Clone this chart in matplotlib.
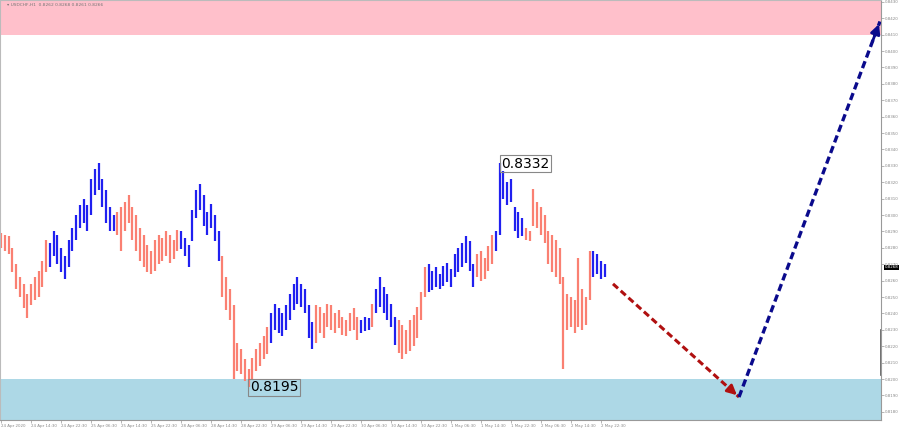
import matplotlib
matplotlib.use("Agg")
import matplotlib.pyplot as plt
import numpy as np
from matplotlib.transforms import blended_transform_factory

# hourly bars, high / low
highs = [0.8289, 0.8288, 0.8287, 0.8280, 0.8270, 0.8262, 0.8258, 0.8252, 0.8258, 0.8262,
         0.8266, 0.8272, 0.8285, 0.8283, 0.8290, 0.8288, 0.8280, 0.8275, 0.8285, 0.8292,
         0.8300, 0.8306, 0.8310, 0.8306, 0.8322, 0.8328, 0.8332, 0.8322, 0.8315, 0.8305,
         0.8300, 0.8302, 0.8305, 0.8308, 0.8312, 0.8305, 0.8300, 0.8292, 0.8288, 0.8282,
         0.8278, 0.8285, 0.8288, 0.8286, 0.8290, 0.8288, 0.8285, 0.8291, 0.8290, 0.8286,
         0.8282, 0.8303, 0.8315, 0.8319, 0.8312, 0.8302, 0.8307, 0.8300, 0.8290, 0.8275,
         0.8262, 0.8255, 0.8245, 0.8222, 0.8218, 0.8212, 0.8206, 0.8213, 0.8218, 0.8222,
         0.8226, 0.8232, 0.8240, 0.8246, 0.8243, 0.8240, 0.8245, 0.8252, 0.8258, 0.8262,
         0.8258, 0.8255, 0.8245, 0.8235, 0.8245, 0.8244, 0.8240, 0.8246, 0.8245, 0.8240,
         0.8242, 0.8238, 0.8236, 0.8240, 0.8243, 0.8238, 0.8236, 0.8238, 0.8237, 0.8246,
         0.8255, 0.8262, 0.8256, 0.8252, 0.8246, 0.8238, 0.8236, 0.8233, 0.8230, 0.8236,
         0.8239, 0.8244, 0.8253, 0.8268, 0.8270, 0.8266, 0.8268, 0.8264, 0.8269, 0.8271,
         0.8267, 0.8276, 0.8280, 0.8283, 0.8287, 0.8284, 0.8270, 0.8276, 0.8278, 0.8274,
         0.8281, 0.8288, 0.8290, 0.8332, 0.8327, 0.8320, 0.8322, 0.8305, 0.8302, 0.8298,
         0.8292, 0.8290, 0.8316, 0.8308, 0.8305, 0.8300, 0.8290, 0.8288, 0.8285, 0.8280,
         0.8262, 0.8252, 0.8250, 0.8248, 0.8274, 0.8255, 0.8250, 0.8278, 0.8278, 0.8276,
         0.8272, 0.8270]
lows = [0.8280, 0.8278, 0.8276, 0.8265, 0.8255, 0.8250, 0.8243, 0.8237, 0.8245, 0.8248,
        0.8250, 0.8256, 0.8265, 0.8268, 0.8275, 0.8270, 0.8265, 0.8261, 0.8268, 0.8278,
        0.8285, 0.8292, 0.8295, 0.8290, 0.8300, 0.8312, 0.8315, 0.8305, 0.8295, 0.8290,
        0.8290, 0.8288, 0.8278, 0.8290, 0.8295, 0.8285, 0.8278, 0.8272, 0.8268, 0.8265,
        0.8264, 0.8266, 0.8270, 0.8272, 0.8275, 0.8271, 0.8273, 0.8278, 0.8279, 0.8275,
        0.8268, 0.8284, 0.8298, 0.8303, 0.8293, 0.8288, 0.8292, 0.8284, 0.8272, 0.8250,
        0.8242, 0.8236, 0.8200, 0.8205, 0.8203, 0.8199, 0.8195, 0.8200, 0.8205, 0.8208,
        0.8212, 0.8215, 0.8222, 0.8230, 0.8228, 0.8226, 0.8230, 0.8236, 0.8242, 0.8246,
        0.8244, 0.8240, 0.8225, 0.8218, 0.8222, 0.8228, 0.8225, 0.8232, 0.8230, 0.8228,
        0.8231, 0.8227, 0.8226, 0.8229, 0.8230, 0.8224, 0.8228, 0.8229, 0.8230, 0.8232,
        0.8240, 0.8244, 0.8240, 0.8236, 0.8232, 0.8221, 0.8216, 0.8212, 0.8215, 0.8217,
        0.8220, 0.8225, 0.8236, 0.8250, 0.8253, 0.8254, 0.8256, 0.8255, 0.8257, 0.8259,
        0.8256, 0.8262, 0.8265, 0.8268, 0.8271, 0.8266, 0.8256, 0.8262, 0.8260, 0.8261,
        0.8266, 0.8270, 0.8278, 0.8288, 0.8310, 0.8306, 0.8308, 0.8290, 0.8286, 0.8287,
        0.8285, 0.8284, 0.8293, 0.8292, 0.8288, 0.8283, 0.8270, 0.8265, 0.8262, 0.8258,
        0.8206, 0.8230, 0.8232, 0.8228, 0.8232, 0.8230, 0.8233, 0.8248, 0.8262, 0.8264,
        0.8261, 0.8262]

# last bar index of each wave, first wave is down
wave_ends = [12, 30, 47, 58, 71, 83, 95, 98, 99, 105, 113, 126, 131, 139, 157, 161]

date_labels = ["24 Apr 2020", "24 Apr 14:30", "24 Apr 22:30", "25 Apr 06:30", "25 Apr 14:30",
               "25 Apr 22:30", "28 Apr 06:30", "28 Apr 14:30", "28 Apr 22:30", "29 Apr 06:30",
               "29 Apr 14:30", "29 Apr 22:30", "30 Apr 06:30", "30 Apr 14:30", "30 Apr 22:30",
               "1 May 06:30", "1 May 14:30", "1 May 22:30", "2 May 06:30", "2 May 14:30",
               "2 May 22:30"]
bars_per_label = 8

# forecast path (bar index, price)
forecast_x = [163.2, 196.8, 234.4]
forecast_y = [0.8258, 0.8189, 0.8418]

resistance_zone = (0.8410, 0.8440)
support_zone = (0.8160, 0.8200)
last_price = 0.8268
swing_high = (133, 0.8332)
swing_low = (66, 0.8195)

fig = plt.figure(figsize=(9, 4.3), dpi=100)
ax = fig.add_axes([0, 10 / 430, 881 / 900, 420 / 430])

ax.set_xlim(-0.27, 234.67)
ax.set_ylim(0.81750, 0.84311)

ax.axhspan(*resistance_zone, color="#ffc0cb", lw=0, zorder=0)
ax.axhspan(*support_zone, color="#add8e6", lw=0, zorder=0)

colors = []
start = 0
for k, end in enumerate(wave_ends):
    c = "#fa8072" if k % 2 == 0 else "#2020f0"
    colors += [c] * (end - start + 1)
    start = end + 1

x = np.arange(len(highs))
ax.vlines(x, lows, highs, colors=colors, lw=1.6, zorder=2)

# forecast arrows
ax.plot(forecast_x[:2], forecast_y[:2], ls=(0, (2.2, 1.2)), color="#b01010", lw=2.2, zorder=3)
ax.plot(forecast_x[1:], forecast_y[1:], ls=(0, (2.2, 1.2)), color="#0a0a8c", lw=2.4, zorder=3)
for (x0, y0, x1, y1, c) in [(forecast_x[0], forecast_y[0], forecast_x[1], forecast_y[1], "#b01010"),
                            (forecast_x[1], forecast_y[1], forecast_x[2], forecast_y[2], "#0a0a8c")]:
    ax.annotate("", xy=(x1, y1), xytext=(x1 - (x1 - x0) * 0.06, y1 - (y1 - y0) * 0.06),
                arrowprops=dict(arrowstyle="-|>", color=c, lw=2, mutation_scale=14), zorder=4)

box = dict(boxstyle="square,pad=0.1", fc="none", ec="#888888", lw=0.8)
ax.text(swing_high[0] + 0.5, swing_high[1] - 0.00008, f"{swing_high[1]:.4f}", fontsize=10,
        ha="left", va="center", bbox=box, zorder=5)
ax.text(swing_low[0] + 0.3, swing_low[1], f"{swing_low[1]:.4f}", fontsize=10,
        ha="left", va="center", bbox=box, zorder=5)

# axes styling
for side in ["top", "left"]:
    ax.spines[side].set_color("#bbbbbb")
    ax.spines[side].set_linewidth(0.8)
for side in ["bottom", "right"]:
    ax.spines[side].set_color("#999999")
    ax.spines[side].set_linewidth(0.8)

ax.yaxis.tick_right()
ax.set_yticks(np.round(np.arange(0.8180, 0.8431, 0.001), 4))
ax.yaxis.set_major_formatter(plt.FuncFormatter(lambda v, p: f"{v:.4f}"))
ax.tick_params(axis="y", direction="out", length=2, width=0.5, colors="#999999",
               labelsize=2.9, labelcolor="#888888", pad=1)

xt = np.arange(len(date_labels)) * bars_per_label
ax.set_xticks(xt)
ax.set_xticklabels(date_labels, ha="left")
ax.tick_params(axis="x", direction="out", length=2, width=0.5, colors="#999999",
               labelsize=2.9, labelcolor="#888888", pad=0.8)

trans = blended_transform_factory(ax.transAxes, ax.transData)
ax.text(1.004, last_price, f"{last_price:.4f}", transform=trans, fontsize=2.9, color="white",
        ha="left", va="center", bbox=dict(boxstyle="square,pad=0.2", fc="black", ec="none"),
        clip_on=False)
ax.plot([1.0, 1.0], [0.82024, 0.8230], transform=trans, color="#555555", lw=1.2, clip_on=False)

ax.text(0.008, 0.992, "\u25be USDCHF,H1  0.8262 0.8268 0.8261 0.8266", transform=ax.transAxes,
        fontsize=3.2, color="#777777", ha="left", va="top")

fig.savefig("out.png", dpi=100)
